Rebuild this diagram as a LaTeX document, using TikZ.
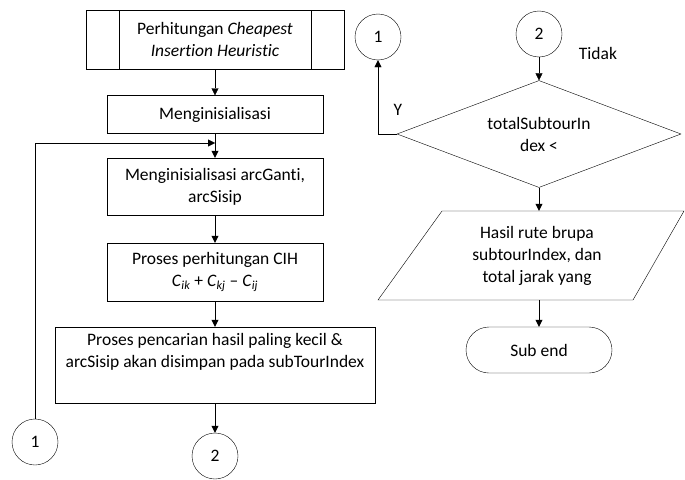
\documentclass[tikz,border=0pt]{standalone}
\usepackage{fontspec}
\setmainfont{Carlito}[Ligatures=NoCommon]
\usepackage{tikz}
\usetikzlibrary{positioning}
\usetikzlibrary{shapes.geometric}
\usetikzlibrary{arrows.meta}
\pgfdeclarelayer{nodelayer}
\pgfdeclarelayer{edgelayer}
\pgfsetlayers{nodelayer,edgelayer,main}
\tikzset{
    none/.style = {inner sep=0pt},
    box/.style = {draw, rectangle, inner sep=0pt, align=center},
    conn/.style = {draw, circle, minimum size=46pt, inner sep=0pt},
    decision/.style = {draw, diamond, aspect=2.65, minimum width=284pt, minimum height=107pt, inner sep=0pt, align=center},
    terminal/.style = {draw, rectangle, rounded corners=23pt, minimum width=146pt, minimum height=46pt},
    flow/.style = {-{Triangle[length=7pt,width=7pt]}}
}

\begin{document}
\begin{tikzpicture}[x=1pt, y=-1pt, line width=1pt, font=\fontsize{17.5}{22}\selectfont]
  \useasboundingbox (0,0) rectangle (685,479);
  \begin{pgfonlayer}{nodelayer}
    \node [box, minimum width=258pt, minimum height=59pt] (0) at (215, 39.5) {Perhitungan \textit{Cheapest}\\\textit{Insertion Heuristic}};
    \draw (119, 10) -- (119, 69);
    \draw (311, 10) -- (311, 69);
    \node [box, minimum width=216pt, minimum height=38pt] (1) at (215, 114.5) {Menginisialisasi};
    \node [box, minimum width=216pt, minimum height=57pt] (2) at (215, 186.5) {Menginisialisasi arcGanti,\\arcSisip};
    \node [box, minimum width=216pt, minimum height=58pt] (3) at (215, 272) {Proses perhitungan CIH\\\textit{C}\textsubscript{\textit{ik}} + \textit{C}\textsubscript{\textit{kj}} – \textit{C}\textsubscript{\textit{ij}}};
    \node [box, minimum width=320pt, minimum height=76pt] (4) at (215, 365) {Proses pencarian hasil paling kecil \&\\arcSisip akan disimpan pada subTourIndex\\\strut};
    \node [conn] (5) at (35, 442) {1};
    \node [conn] (6) at (215, 456) {2};
    \node [conn] (7) at (378, 37) {1};
    \node [conn] (8) at (539, 34) {2};
    \node [decision] (9) at (539, 134) {totalSubtourIn\\dex <};
    \draw (442, 211) -- (684, 211) -- (633, 300) -- (378, 300) -- cycle;
    \node [none, minimum width=200pt, minimum height=89pt, align=center] (10) at (537, 255.5) {Hasil rute brupa\\subtourIndex, dan\\total jarak yang};
    \node [terminal] (11) at (539, 350) {Sub end};
    \node [none] (12) at (398, 110) {Y};
    \node [none] (13) at (598, 53) {Tidak};
    \coordinate (14) at (215, 143);
  \end{pgfonlayer}
  \begin{pgfonlayer}{edgelayer}
    \draw [flow] (0) to (1);
    \draw [flow] (1) to (2);
    \draw [flow] (2) to (3);
    \draw [flow] (3) to (4);
    \draw [flow] (4) to (6);
    \draw [flow] (5.north) |- (14);
    \draw [flow] (8) to (9);
    \draw [flow] (9.west) -| (7.south);
    \draw [flow] (9.south) to (9.south |- 10.north);
    \draw [flow] (11.north |- 10.south) to (11.north);
  \end{pgfonlayer}
\end{tikzpicture}
\end{document}
